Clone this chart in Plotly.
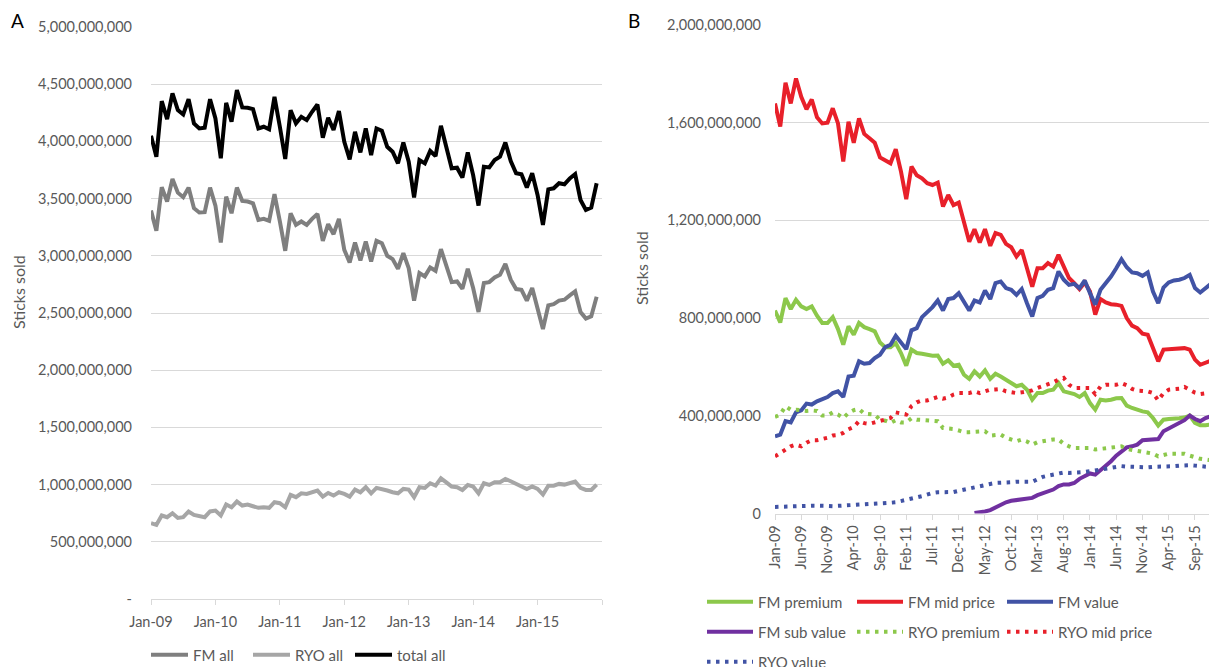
import plotly.graph_objects as go

W, H = 1209, 667

# ---------------- Panel A data (millions of sticks, Jan-09 .. Dec-15) ----------------
a_months = list(range(84))
fm_all = [3395, 3218, 3599, 3474, 3671, 3552, 3512, 3596, 3416, 3378, 3381, 3596,
          3439, 3116, 3517, 3372, 3596, 3480, 3474, 3459, 3314, 3323, 3305, 3538,
          3300, 3044, 3372, 3270, 3300, 3270, 3323, 3366, 3131, 3276, 3189, 3323,
          3052, 2942, 3116, 2959, 3125, 2950, 3131, 3110, 3000, 2971, 2887, 3023,
          2892, 2608, 2849, 2820, 2898, 2869, 3058, 2913, 2770, 2776, 2712, 2887,
          2718, 2509, 2762, 2770, 2811, 2834, 2930, 2791, 2709, 2703, 2608, 2718,
          2529, 2360, 2567, 2578, 2608, 2616, 2654, 2689, 2509, 2451, 2471, 2642]
ryo_all = [663, 648, 730, 715, 750, 709, 715, 765, 735, 724, 715, 765,
           773, 730, 826, 802, 852, 817, 826, 811, 797, 802, 797, 846,
           837, 802, 910, 890, 924, 919, 933, 948, 895, 927, 904, 933,
           919, 895, 956, 933, 977, 924, 971, 962, 948, 933, 924, 962,
           956, 890, 977, 971, 1012, 991, 1055, 1020, 983, 977, 953, 997,
           983, 924, 1012, 997, 1020, 1020, 1049, 1029, 1006, 991, 962, 983,
           962, 913, 991, 991, 1006, 1000, 1012, 1026, 971, 953, 953, 1000]
total_all = [4050, 3866, 4352, 4195, 4419, 4273, 4235, 4369, 4157, 4113, 4119, 4369,
             4200, 3852, 4337, 4172, 4448, 4297, 4294, 4282, 4113, 4128, 4105, 4390,
             4128, 3846, 4273, 4157, 4215, 4186, 4259, 4323, 4032, 4206, 4099, 4265,
             3997, 3843, 4084, 3904, 4113, 3881, 4113, 4093, 3953, 3910, 3808, 3991,
             3822, 3509, 3837, 3808, 3916, 3872, 4137, 3953, 3765, 3770, 3683, 3904,
             3706, 3439, 3779, 3773, 3837, 3866, 3991, 3828, 3721, 3712, 3596, 3721,
             3532, 3270, 3581, 3590, 3634, 3625, 3677, 3715, 3488, 3401, 3421, 3634]
a_xtick_vals = [0, 12, 24, 36, 48, 60, 72, 84]
a_xtick_text = ["Jan-09", "Jan-10", "Jan-11", "Jan-12", "Jan-13", "Jan-14", "Jan-15", ""]
a_ytick_vals = [0, 500, 1000, 1500, 2000, 2500, 3000, 3500, 4000, 4500, 5000]
a_ytick_text = ["-", "500,000,000", "1,000,000,000", "1,500,000,000", "2,000,000,000",
                "2,500,000,000", "3,000,000,000", "3,500,000,000", "4,000,000,000",
                "4,500,000,000", "5,000,000,000"]

# ---------------- Panel B data (millions of sticks) ----------------
b_months = list(range(84))
fm_premium = [831, 782, 882, 837, 875, 848, 837, 848, 810, 780, 780, 804,
              755, 691, 766, 732, 780, 763, 755, 746, 700, 681, 681, 698,
              657, 605, 671, 657, 654, 649, 646, 647, 613, 627, 605, 609,
              568, 551, 582, 561, 586, 551, 572, 561, 548, 534, 521, 527,
              507, 466, 493, 493, 503, 507, 534, 500, 496, 489, 477, 493,
              452, 425, 466, 463, 466, 472, 473, 442, 432, 423, 418, 414,
              391, 360, 384, 387, 387, 390, 393, 401, 371, 361, 361, 365]
fm_mid_price = [1679, 1584, 1764, 1679, 1781, 1706, 1655, 1695, 1622, 1597, 1600, 1659,
                1597, 1441, 1604, 1518, 1618, 1554, 1536, 1518, 1458, 1447, 1434, 1491,
                1400, 1287, 1420, 1385, 1372, 1352, 1345, 1355, 1257, 1304, 1263, 1273,
                1188, 1113, 1164, 1109, 1164, 1096, 1148, 1141, 1104, 1090, 1052, 1079,
                1004, 929, 1004, 1004, 1025, 1011, 1059, 1011, 964, 943, 919, 946,
                909, 814, 878, 864, 857, 855, 850, 800, 769, 759, 736, 732,
                677, 623, 671, 673, 675, 677, 677, 671, 630, 609, 619, 625]
fm_value = [316, 323, 378, 373, 414, 422, 450, 446, 459, 469, 477, 493,
            500, 477, 561, 564, 623, 613, 616, 636, 650, 681, 691, 728,
            700, 673, 750, 759, 804, 823, 845, 872, 831, 878, 882, 902,
            864, 831, 872, 864, 913, 878, 943, 950, 923, 916, 895, 919,
            861, 807, 882, 891, 916, 923, 991, 957, 936, 940, 923, 954,
            902, 855, 916, 940, 970, 1004, 1041, 1008, 987, 984, 973, 987,
            909, 861, 925, 946, 954, 957, 964, 977, 923, 905, 923, 940]
fm_sub_value = [None] * 38 + [2, 4, 8, 14, 25, 38, 46, 52, 56, 60,
                              63, 64, 75, 82, 90, 98, 112, 119, 119, 125,
                              142, 155, 164, 159, 177, 194, 214, 237, 255, 271,
                              275, 282, 300, 303, 303, 305, 337, 348, 360, 371,
                              382, 401, 387, 378, 391, 398]
ryo_premium = [395, 405, 439, 425, 425, 422, 420, 422, 420, 401, 401, 414,
               405, 391, 412, 423, 428, 409, 407, 405, 384, 380, 371, 382,
               373, 373, 390, 384, 383, 382, 380, 378, 350, 350, 346, 340,
               333, 333, 335, 337, 337, 319, 321, 323, 310, 305, 296, 303,
               295, 282, 292, 296, 300, 303, 303, 285, 275, 268, 268, 268,
               268, 262, 264, 268, 268, 270, 275, 264, 260, 255, 250, 248,
               245, 234, 240, 245, 245, 245, 245, 237, 230, 224, 221, 218]
ryo_mid_price = [234, 248, 265, 275, 282, 275, 290, 300, 300, 303, 310, 319,
                 321, 330, 345, 354, 378, 370, 367, 373, 378, 385, 391, 414,
                 408, 405, 440, 455, 463, 463, 470, 477, 470, 475, 487, 493,
                 493, 493, 500, 493, 500, 507, 508, 510, 500, 496, 493, 496,
                 500, 504, 514, 521, 530, 537, 548, 555, 527, 514, 514, 514,
                 514, 489, 520, 527, 527, 527, 534, 525, 510, 503, 502, 500,
                 493, 463, 493, 507, 509, 511, 518, 507, 495, 489, 493, 495]
ryo_value = [27, 27, 28, 29, 30, 30, 31, 32, 33, 32, 31, 30,
             31, 32, 33, 34, 36, 38, 40, 41, 41, 42, 44, 46,
             50, 55, 60, 66, 71, 78, 84, 87, 87, 87, 88, 93,
             97, 103, 108, 112, 117, 121, 125, 125, 126, 128, 130, 132,
             130, 130, 140, 150, 155, 160, 164, 168, 166, 166, 167, 170,
             173, 176, 180, 183, 186, 190, 194, 192, 191, 190, 188, 189,
             191, 191, 192, 194, 194, 196, 199, 198, 196, 193, 191, 190]
b_xtick_vals = [0, 5, 10, 15, 20, 25, 30, 35, 40, 45, 50, 55, 60, 65, 70, 75, 80]
b_xtick_text = ["Jan-09", "Jun-09", "Nov-09", "Apr-10", "Sep-10", "Feb-11", "Jul-11",
                "Dec-11", "May-12", "Oct-12", "Mar-13", "Aug-13", "Jan-14", "Jun-14",
                "Nov-14", "Apr-15", "Sep-15"]
b_ytick_vals = [0, 400, 800, 1200, 1600, 2000]
b_ytick_text = ["0", "400,000,000", "800,000,000", "1,200,000,000", "1,600,000,000",
                "2,000,000,000"]

# ---------------- styling ----------------
FONT = "Lato, 'Open Sans', sans-serif"
GREY_TXT = "#595959"
GRID = "#d9d9d9"
C_FM_ALL, C_RYO_ALL, C_TOTAL = "#7f7f7f", "#a6a6a6", "#000000"
C_GREEN, C_RED, C_BLUE, C_PURPLE = "#8cc84b", "#e8202a", "#4153a5", "#7030a0"
LW = 4
DOT = "3.5px,5.5px"

fig = go.Figure()

for name, ys, col in [("FM all", fm_all, C_FM_ALL), ("RYO all", ryo_all, C_RYO_ALL),
                      ("total all", total_all, C_TOTAL)]:
    fig.add_trace(go.Scatter(x=a_months, y=ys, name=name, mode="lines",
                             line=dict(color=col, width=LW),
                             xaxis="x", yaxis="y", legend="legend"))

b_series = [
    ("FM premium", fm_premium, C_GREEN, "solid", "legend2"),
    ("FM mid price", fm_mid_price, C_RED, "solid", "legend2"),
    ("FM value", fm_value, C_BLUE, "solid", "legend2"),
    ("FM sub value", fm_sub_value, C_PURPLE, "solid", "legend3"),
    ("RYO premium", ryo_premium, C_GREEN, DOT, "legend3"),
    ("RYO mid price", ryo_mid_price, C_RED, DOT, "legend3"),
    ("RYO value", ryo_value, C_BLUE, DOT, "legend4"),
]
for name, ys, col, dash, lg in b_series:
    fig.add_trace(go.Scatter(x=b_months, y=ys, name=name, mode="lines",
                             line=dict(color=col, width=LW, dash=dash),
                             connectgaps=False,
                             xaxis="x2", yaxis="y2", legend=lg))

tickfont = dict(family=FONT, size=14.5, color=GREY_TXT)
legfont = dict(family=FONT, size=15, color=GREY_TXT)


def cx(p):
    return p / W


def cy(p):
    return 1 - p / H


def leg(x_px, y_px, width, itemw):
    return dict(orientation="h", xref="container", yref="container",
                x=cx(x_px), y=cy(y_px), xanchor="left", yanchor="middle",
                font=legfont, bgcolor="rgba(0,0,0,0)", borderwidth=0,
                entrywidth=width, entrywidthmode="pixels", itemwidth=itemw,
                tracegroupgap=0)


fig.update_layout(
    width=W, height=H,
    margin=dict(l=0, r=0, t=0, b=0, autoexpand=False),
    paper_bgcolor="white", plot_bgcolor="white",
    font=dict(family=FONT, color=GREY_TXT),
    showlegend=True,
    xaxis=dict(domain=[cx(151), cx(602)], range=[0, 84], anchor="y",
               tickvals=a_xtick_vals, ticktext=a_xtick_text, tickfont=tickfont,
               ticks="outside", ticklen=5, tickcolor=GRID, tickwidth=1,
               ticklabelstandoff=5,
               showline=True, linecolor=GRID, linewidth=1,
               showgrid=False, zeroline=False, fixedrange=True),
    yaxis=dict(domain=[cy(599), cy(27)], range=[0, 5000], anchor="x",
               tickvals=a_ytick_vals, ticktext=a_ytick_text, tickfont=tickfont,
               showgrid=True, gridcolor=GRID, gridwidth=1, zeroline=False,
               showline=False, ticks="", ticklabelstandoff=18, fixedrange=True),
    xaxis2=dict(domain=[cx(775), 1.0], range=[0, 82.67], anchor="y2",
                tickvals=b_xtick_vals, ticktext=b_xtick_text, tickfont=tickfont,
                tickangle=-90, ticks="outside", ticklen=5, tickcolor=GRID, tickwidth=1,
                showline=True, linecolor=GRID, linewidth=1,
                showgrid=False, zeroline=False, fixedrange=True),
    yaxis2=dict(domain=[cy(513.5), cy(25)], range=[0, 2000], anchor="x2",
                tickvals=b_ytick_vals, ticktext=b_ytick_text, tickfont=tickfont,
                showgrid=True, gridcolor=GRID, gridwidth=1, zeroline=False,
                showline=False, ticks="", ticklabelstandoff=13, fixedrange=True),
    legend=leg(146, 655, 50, 37),
    legend2=leg(702, 602, 89, 46),
    legend3=leg(702, 632, 89, 46),
    legend4=leg(702, 662, 89, 46),
)

annots = [
    dict(text="A", x=cx(17), y=cy(20), font=dict(family=FONT, size=19, color="black")),
    dict(text="B", x=cx(634), y=cy(20), font=dict(family=FONT, size=19, color="black")),
    dict(text="Sticks sold", x=cx(18), y=cy(292), textangle=-90,
         font=dict(family=FONT, size=16, color=GREY_TXT)),
    dict(text="Sticks sold", x=cx(641), y=cy(268), textangle=-90,
         font=dict(family=FONT, size=16, color=GREY_TXT)),
]
for a in annots:
    fig.add_annotation(xref="paper", yref="paper", showarrow=False,
                       xanchor="center", yanchor="middle", **a)

fig.write_html("out.html",
               config={"displayModeBar": False, "staticPlot": True},
               post_script="document.body.style.margin='0px';"
                           "document.body.style.overflow='hidden';")
